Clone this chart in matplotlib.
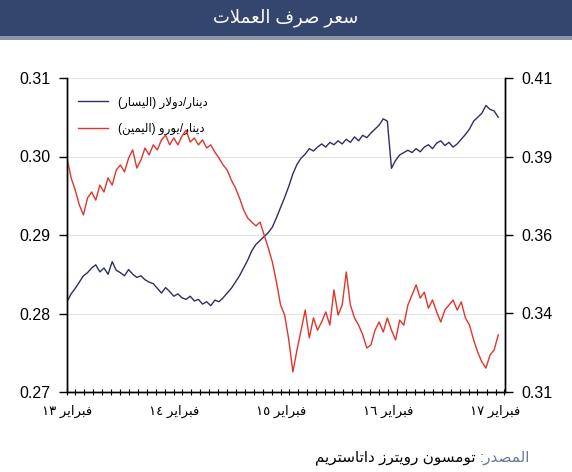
import re
import pandas as pd
import matplotlib
matplotlib.use('Agg')
import matplotlib.pyplot as plt
import matplotlib.dates as mdates
from matplotlib.patches import Rectangle
from matplotlib.ticker import FixedLocator, FuncFormatter

# DONNEES (un point toutes les deux semaines)
dates = pd.date_range('2013-02-01', periods=106, freq='14D')

dinar_dollar = [
    0.2815, 0.2825, 0.2832, 0.2840, 0.2848, 0.2852, 0.2858, 0.2862, 0.2853, 0.2858,
    0.2850, 0.2866, 0.2855, 0.2852, 0.2848, 0.2856, 0.2850, 0.2846, 0.2848, 0.2843,
    0.2840, 0.2838, 0.2832, 0.2826, 0.2833, 0.2828, 0.2822, 0.2825, 0.2820, 0.2818,
    0.2822, 0.2816, 0.2818, 0.2812, 0.2815, 0.2810, 0.2817, 0.2815, 0.2820, 0.2826,
    0.2832, 0.2840, 0.2848, 0.2858, 0.2868, 0.2880, 0.2888, 0.2893, 0.2898, 0.2903,
    0.2910, 0.2922, 0.2935, 0.2948, 0.2962, 0.2978, 0.2990, 0.2998, 0.3003, 0.3010,
    0.3007, 0.3012, 0.3016, 0.3012, 0.3018, 0.3015, 0.3020, 0.3016, 0.3022, 0.3018,
    0.3025, 0.3020, 0.3027, 0.3024, 0.3030, 0.3035, 0.3040, 0.3048, 0.3045, 0.2985,
    0.2995, 0.3002, 0.3005, 0.3008, 0.3005, 0.3010, 0.3006, 0.3012, 0.3015, 0.3010,
    0.3017, 0.3020, 0.3014, 0.3018, 0.3012, 0.3016, 0.3022, 0.3028, 0.3035, 0.3045,
    0.3050, 0.3055, 0.3065, 0.3060, 0.3058, 0.3050,
]

dinar_euro = [
    0.3845, 0.3782, 0.3743, 0.3696, 0.3664, 0.3718, 0.3737, 0.3711, 0.3759, 0.3737,
    0.3782, 0.3759, 0.3807, 0.3823, 0.3801, 0.3845, 0.3871, 0.3813, 0.3839, 0.3877,
    0.3855, 0.3887, 0.3871, 0.3903, 0.3918, 0.3887, 0.3909, 0.3887, 0.3915, 0.3934,
    0.3896, 0.3909, 0.3887, 0.3903, 0.3877, 0.3887, 0.3864, 0.3845, 0.3823, 0.3807,
    0.3775, 0.3750, 0.3718, 0.3680, 0.3654, 0.3641, 0.3629, 0.3641, 0.3600, 0.3559,
    0.3514, 0.3450, 0.3377, 0.3345, 0.3266, 0.3164, 0.3234, 0.3297, 0.3361, 0.3272,
    0.3336, 0.3297, 0.3323, 0.3355, 0.3313, 0.3425, 0.3345, 0.3377, 0.3482, 0.3377,
    0.3336, 0.3313, 0.3282, 0.3240, 0.3250, 0.3297, 0.3323, 0.3291, 0.3336, 0.3297,
    0.3266, 0.3329, 0.3313, 0.3377, 0.3409, 0.3441, 0.3399, 0.3418, 0.3367, 0.3393,
    0.3355, 0.3323, 0.3361, 0.3377, 0.3393, 0.3361, 0.3387, 0.3336, 0.3313, 0.3266,
    0.3227, 0.3196, 0.3176, 0.3218, 0.3234, 0.3282,
]

title = 'سعر صرف العملات'
label_usd = 'دينار/دولار (اليسار)'
label_eur = 'دينار/يورو (اليمين)'
month_name = 'فبراير'
year_labels = ['١٣', '١٤', '١٥', '١٦', '١٧']
tick_years = [2013, 2014, 2015, 2016, 2017]
source_head = 'المصدر:'
source_body = 'تومسون رويترز داتاستريم'

left_ticks = [0.27, 0.28, 0.29, 0.30, 0.31]
right_ticks = [0.31, 0.335, 0.36, 0.385, 0.41]

# MISE EN FORME DE L'ARABE (matplotlib ne fait ni la liaison ni le sens droite-gauche)
# isolee, finale, initiale, mediane
FORMS = {
    'ا': ('\uFE8D', '\uFE8E', None, None),
    'ب': ('\uFE8F', '\uFE90', '\uFE91', '\uFE92'),
    'ت': ('\uFE95', '\uFE96', '\uFE97', '\uFE98'),
    'د': ('\uFEA9', '\uFEAA', None, None),
    'ر': ('\uFEAD', '\uFEAE', None, None),
    'ز': ('\uFEAF', '\uFEB0', None, None),
    'س': ('\uFEB1', '\uFEB2', '\uFEB3', '\uFEB4'),
    'ص': ('\uFEB9', '\uFEBA', '\uFEBB', '\uFEBC'),
    'ع': ('\uFEC9', '\uFECA', '\uFECB', '\uFECC'),
    'ف': ('\uFED1', '\uFED2', '\uFED3', '\uFED4'),
    'ل': ('\uFEDD', '\uFEDE', '\uFEDF', '\uFEE0'),
    'م': ('\uFEE1', '\uFEE2', '\uFEE3', '\uFEE4'),
    'ن': ('\uFEE5', '\uFEE6', '\uFEE7', '\uFEE8'),
    'و': ('\uFEED', '\uFEEE', None, None),
    'ي': ('\uFEF1', '\uFEF2', '\uFEF3', '\uFEF4'),
}


def joins_next(c):
    return c in FORMS and FORMS[c][2] is not None


def shape(text):
    res = []
    i = 0
    n = len(text)
    while i < n:
        c = text[i]
        prev = text[i - 1] if i > 0 else ''
        link_prev = joins_next(prev)
        if c == 'ل' and i + 1 < n and text[i + 1] == 'ا':
            res.append('\uFEFC' if link_prev else '\uFEFB')
            i += 2
            continue
        if c not in FORMS:
            res.append(c)
            i += 1
            continue
        nxt = text[i + 1] if i + 1 < n else ''
        link_next = joins_next(c) and nxt in FORMS
        iso, fin, ini, med = FORMS[c]
        if link_prev and link_next:
            res.append(med)
        elif link_prev:
            res.append(fin)
        elif link_next:
            res.append(ini)
        else:
            res.append(iso)
        i += 1
    return ''.join(res)


def rtl(text):
    s = shape(text)[::-1]
    s = s.translate(str.maketrans('()', ')('))
    s = re.sub('[\u0660-\u06690-9.]+', lambda m: m.group(0)[::-1], s)
    return s


AR = ['Liberation Sans', 'DejaVu Sans']
plt.rcParams['font.family'] = AR

navy = '#2f2f5f'
red = '#e0342c'

fig = plt.figure(figsize=(5.72, 4.72), dpi=100)

# bandeau du titre
fig.patches.append(Rectangle((0, 1 - 36 / 472), 1, 36 / 472, transform=fig.transFigure,
                             facecolor='#34466e', edgecolor='none'))
fig.patches.append(Rectangle((0, 1 - 40 / 472), 1, 4 / 472, transform=fig.transFigure,
                             facecolor='#8c95ab', edgecolor='none'))
fig.text(0.5, 1 - 18 / 472, rtl(title), color='white', fontsize=13, ha='center', va='center')

ax = fig.add_axes([67 / 572, 1 - 392 / 472, 438 / 572, 314 / 472])
ax2 = ax.twinx()

l1, = ax.plot(dates, dinar_dollar, color=navy, lw=1.0, label=rtl(label_usd))
l2, = ax2.plot(dates, dinar_euro, color=red, lw=1.0, label=rtl(label_eur))

ax.set_ylim(0.27, 0.31)
ax2.set_ylim(0.31, 0.41)
ax.yaxis.set_major_locator(FixedLocator(left_ticks))
ax.yaxis.set_major_formatter(FuncFormatter(lambda v, p: f'{v:.2f}'))
ax2.yaxis.set_major_locator(FixedLocator(right_ticks))
ax2.yaxis.set_major_formatter(FuncFormatter(lambda v, p: f'{v:.2f}'))
ax.grid(axis='y', color='#e4e4e4', lw=0.8)
ax.set_axisbelow(True)

ax.set_xlim(pd.Timestamp('2013-02-01'), pd.Timestamp('2017-03-05'))
ax.set_xticks([pd.Timestamp(f'{y}-02-01') for y in tick_years])
ax.set_xticklabels([rtl(f'{month_name} {y}') for y in year_labels], fontsize=9.5)
ax.xaxis.set_minor_locator(mdates.MonthLocator())

for a in (ax, ax2):
    a.spines['top'].set_visible(False)
    for s in a.spines.values():
        s.set_linewidth(1.0)
ax.tick_params(axis='y', labelsize=11.5, length=6, width=1, pad=6, direction='out')
ax2.tick_params(axis='y', labelsize=11.5, length=6, width=1, pad=6, direction='out')
ax.tick_params(axis='x', which='both', length=5, width=0.8, direction='inout', pad=7)

ax.legend(handles=[l1, l2], loc='upper left', frameon=False, fontsize=8.5,
          handlelength=2.6, labelspacing=1.2, bbox_to_anchor=(0.0, 0.975))

# source en bas a droite : "المصدر:" en gris, puis le nom en noir (lecture droite-gauche)
fig.canvas.draw()
r = fig.canvas.get_renderer()
t_head = fig.text(530 / 572, 1 - 458 / 472, rtl(source_head), color='#6b7894',
                  fontsize=11, ha='right', va='center')
w = t_head.get_window_extent(renderer=r).width / fig.bbox.width
fig.text(530 / 572 - w - 4 / 572, 1 - 458 / 472, rtl(source_body), color='black',
         fontsize=11, ha='right', va='center')

fig.savefig('out.png', dpi=100)
